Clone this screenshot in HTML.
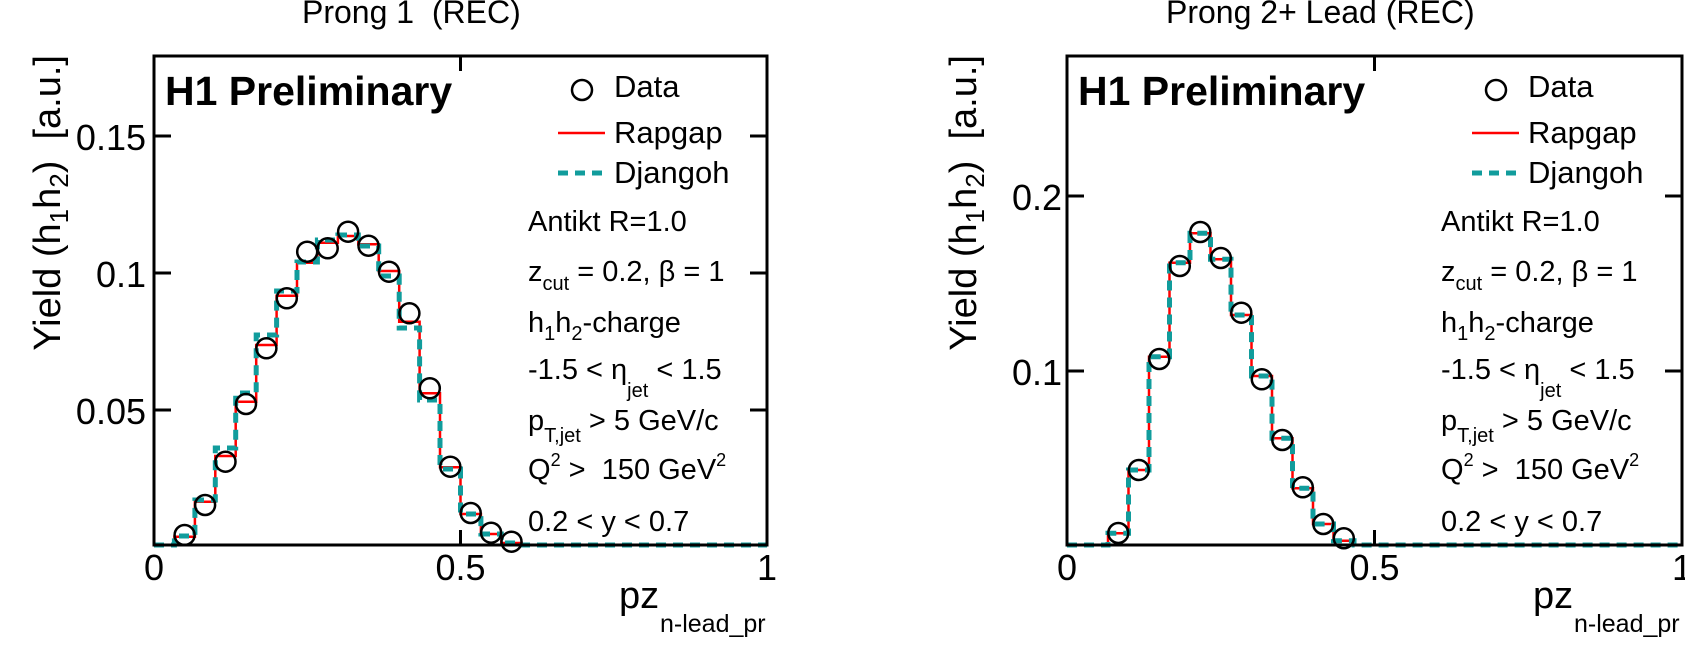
<!DOCTYPE html>
<html><head><meta charset="utf-8"><style>
html,body{margin:0;padding:0;background:#fff;}
svg{display:block;font-family:"Liberation Sans",Arial,sans-serif;}
</style></head><body>
<svg width="1685" height="658" viewBox="0 0 1685 658" xmlns="http://www.w3.org/2000/svg">
<defs>
<g id="info">
  <text x="0" y="0" font-size="29">Antikt R=1.0</text>
  <text x="0" y="50" font-size="29">z<tspan font-size="20" dy="9">cut</tspan><tspan dy="-9"> = 0.2, β = 1</tspan></text>
  <text x="0" y="101" font-size="29">h<tspan font-size="20" dy="8">1</tspan><tspan dy="-8">h</tspan><tspan font-size="20" dy="8">2</tspan><tspan dy="-8">-charge</tspan></text>
  <text x="0" y="148" font-size="29">-1.5 &lt; η<tspan font-size="20" dy="18">jet</tspan><tspan dy="-18"> &lt; 1.5</tspan></text>
  <text x="0" y="199" font-size="29">p<tspan font-size="20" dy="12">T,jet</tspan><tspan dy="-12"> &gt; 5 GeV/c</tspan></text>
  <text x="0" y="248" font-size="29" xml:space="preserve">Q<tspan font-size="18" dy="-13">2</tspan><tspan dy="13"> &gt;  150 GeV</tspan><tspan font-size="18" dy="-13">2</tspan></text>
  <text x="0" y="300" font-size="29">0.2 &lt; y &lt; 0.7</text>
</g>
<g id="legend">
  <circle cx="0" cy="0" r="10" fill="none" stroke="#000" stroke-width="2.5"/>
  <text x="32" y="7" font-size="31">Data</text>
  <line x1="-24" y1="43" x2="23" y2="43" stroke="#ff0000" stroke-width="2.5"/>
  <text x="32" y="53" font-size="31">Rapgap</text>
  <line x1="-24" y1="83" x2="23" y2="83" stroke="#119c9c" stroke-width="5" stroke-dasharray="10,7"/>
  <text x="32" y="93" font-size="31">Djangoh</text>
</g>
</defs>

<!-- LEFT PANEL -->
<text x="302" y="23" font-size="32" xml:space="preserve">Prong 1  (REC)</text>
<text transform="translate(60,55) rotate(-90)" text-anchor="end" font-size="38" xml:space="preserve">Yield (h<tspan font-size="26" dy="8">1</tspan><tspan dy="-8">h</tspan><tspan font-size="26" dy="8">2</tspan><tspan dy="-8">)  [a.u.]</tspan></text>

<path d="M154,545 H174.4 V536.7 H194.9 V501.7 H215.3 V456 H235.7 V401.7 H256.2 V345 H276.6 V295.7 H297 V262.7 H317.4 V242.7 H337.9 V236 H358.3 V244.3 H378.7 V271 H399.2 V321.7 H419.6 V393.3 H440 V467.3 H460.5 V514 H480.9 V534 H501.3 V543 H521.7 V545 H767" fill="none" stroke="#ff0000" stroke-width="2.5"/>
<path d="M154,545 H174.4 V536 H194.9 V500 H215.3 V448 H235.7 V393 H256.2 V335 H276.6 V291 H297 V262 H317.4 V240 H337.9 V235 H358.3 V246 H378.7 V276 H399.2 V328 H419.6 V400 H440 V469 H460.5 V514 H480.9 V534 H501.3 V543 H521.7 V545 H767" fill="none" stroke="#119c9c" stroke-width="5" stroke-dasharray="10,7"/>
<g fill="none" stroke="#000" stroke-width="2.5">
<circle cx="184.6" cy="535" r="10"/><circle cx="205.1" cy="505" r="10"/><circle cx="225.5" cy="461.7" r="10"/><circle cx="246" cy="404" r="10"/><circle cx="266.4" cy="348.3" r="10"/><circle cx="286.8" cy="298.3" r="10"/><circle cx="307.2" cy="251.7" r="10"/><circle cx="327.7" cy="248.3" r="10"/><circle cx="348.1" cy="231.7" r="10"/><circle cx="368.5" cy="245.7" r="10"/><circle cx="389" cy="271.7" r="10"/><circle cx="409.4" cy="313.3" r="10"/><circle cx="429.8" cy="388.3" r="10"/><circle cx="450.3" cy="466.7" r="10"/><circle cx="470.7" cy="513" r="10"/><circle cx="491.1" cy="532.7" r="10"/><circle cx="511.5" cy="541.7" r="10"/>
</g>
<rect x="154" y="56" width="613" height="489" fill="none" stroke="#000" stroke-width="3"/>
<g stroke="#000" stroke-width="3">
<line x1="154" y1="136" x2="171" y2="136"/><line x1="154" y1="273" x2="171" y2="273"/><line x1="154" y1="410" x2="171" y2="410"/>
<line x1="767" y1="136" x2="750" y2="136"/><line x1="767" y1="273" x2="750" y2="273"/><line x1="767" y1="410" x2="750" y2="410"/>
<line x1="460.5" y1="545" x2="460.5" y2="530"/><line x1="460.5" y1="56" x2="460.5" y2="71"/>
</g>
<g font-size="36" text-anchor="end">
<text x="146" y="150">0.15</text><text x="146" y="287">0.1</text><text x="146" y="424">0.05</text>
</g>
<g font-size="36" text-anchor="middle">
<text x="154" y="580">0</text><text x="460.5" y="580">0.5</text><text x="767" y="580">1</text>
</g>
<text x="619" y="608" font-size="38">pz</text>
<text x="660" y="632" font-size="25">n-lead_pr</text>
<text x="165" y="105" font-size="41" font-weight="bold">H1 Preliminary</text>
<use href="#legend" x="582" y="90"/>
<use href="#info" x="528" y="231"/>

<!-- RIGHT PANEL -->
<text x="1166" y="23" font-size="32" xml:space="preserve">Prong 2+ Lead (REC)</text>
<text transform="translate(976,55) rotate(-90)" text-anchor="end" font-size="38" xml:space="preserve">Yield (h<tspan font-size="26" dy="8">1</tspan><tspan dy="-8">h</tspan><tspan font-size="26" dy="8">2</tspan><tspan dy="-8">)  [a.u.]</tspan></text>

<path d="M1067,545 H1108 V533.3 H1128.5 V470 H1149 V356.7 H1169.5 V262.7 H1190 V233.3 H1210.5 V259.3 H1231 V315 H1251.5 V376 H1272 V438.3 H1292.5 V488.3 H1313 V524 H1333.5 V540.7 H1354 V545 H1682" fill="none" stroke="#ff0000" stroke-width="2.5"/>
<path d="M1067,545 H1108 V533.3 H1128.5 V470 H1149 V356.7 H1169.5 V262.7 H1190 V233.3 H1210.5 V259.3 H1231 V315 H1251.5 V376 H1272 V438.3 H1292.5 V488.3 H1313 V524 H1333.5 V540.7 H1354 V545 H1682" fill="none" stroke="#119c9c" stroke-width="5" stroke-dasharray="10,7"/>
<g fill="none" stroke="#000" stroke-width="2.5">
<circle cx="1118.3" cy="533" r="10"/><circle cx="1138.8" cy="470" r="10"/><circle cx="1159.3" cy="359" r="10"/><circle cx="1179.8" cy="266" r="10"/><circle cx="1200.3" cy="232" r="10"/><circle cx="1220.8" cy="258" r="10"/><circle cx="1241.3" cy="312.7" r="10"/><circle cx="1261.8" cy="379.3" r="10"/><circle cx="1282.3" cy="440" r="10"/><circle cx="1302.8" cy="487.3" r="10"/><circle cx="1323.3" cy="524" r="10"/><circle cx="1343.8" cy="538.3" r="10"/>
</g>
<rect x="1067" y="56" width="615" height="489" fill="none" stroke="#000" stroke-width="3"/>
<g stroke="#000" stroke-width="3">
<line x1="1067" y1="196" x2="1084" y2="196"/><line x1="1067" y1="371" x2="1084" y2="371"/>
<line x1="1682" y1="196" x2="1665" y2="196"/><line x1="1682" y1="371" x2="1665" y2="371"/>
<line x1="1374.5" y1="545" x2="1374.5" y2="530"/><line x1="1374.5" y1="56" x2="1374.5" y2="71"/>
</g>
<g font-size="36" text-anchor="end">
<text x="1062" y="210">0.2</text><text x="1062" y="385">0.1</text>
</g>
<g font-size="36" text-anchor="middle">
<text x="1067" y="580">0</text><text x="1374.5" y="580">0.5</text><text x="1682" y="580">1</text>
</g>
<text x="1533" y="608" font-size="38">pz</text>
<text x="1574" y="632" font-size="25">n-lead_pr</text>
<text x="1078" y="105" font-size="41" font-weight="bold">H1 Preliminary</text>
<use href="#legend" x="1496" y="90"/>
<use href="#info" x="1441" y="231"/>
</svg>
</body></html>
